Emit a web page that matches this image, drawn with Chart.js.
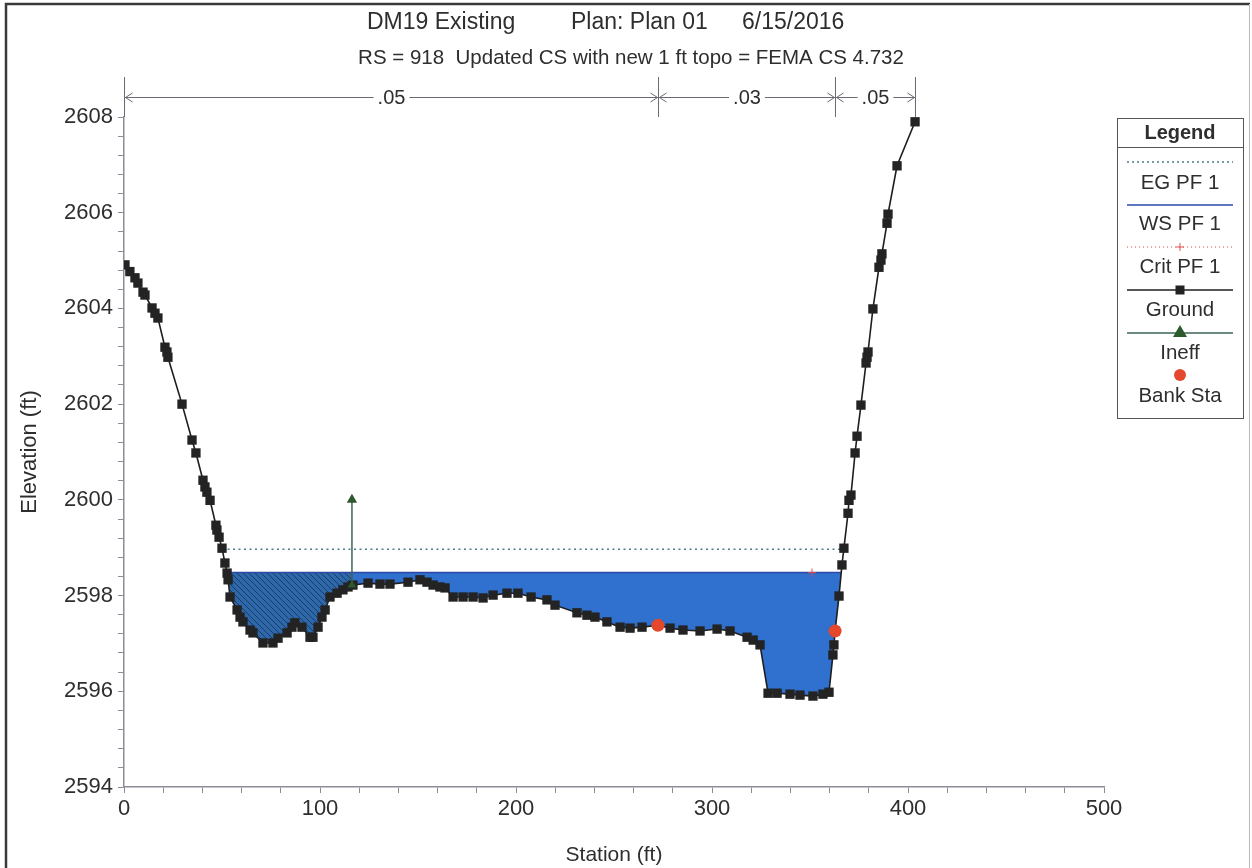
<!DOCTYPE html>
<html>
<head>
<meta charset="utf-8">
<script src="https://cdn.jsdelivr.net/npm/chart.js@4.4.1/dist/chart.umd.min.js"></script>
<style>
  html, body { margin: 0; padding: 0; background: #ffffff; }
  #wrap { width: 1252px; height: 868px; position: relative; }
</style>
</head>
<body>
<div id="wrap"><canvas id="c" width="1252" height="868"></canvas></div>
<script>
// ---------------- data ----------------
const groundStation = [0.5, 3, 5.6, 7.1, 9.7, 10.7, 14.3, 15.8, 17.3, 20.9, 21.9, 22.4, 29.6, 34.7, 36.7,
  40.3, 41.3, 42.3, 43.9, 46.9, 47.4, 48.5, 50.0, 51.5, 52.6, 53.1, 54.1, 57.7, 59.2, 60.7, 64.3, 65.8,
  70.9, 76.0, 78.6, 83.2, 85.7, 87.2, 90.8, 94.9, 96.4, 99.0, 101.0, 102.6, 105.1, 108.7, 111.7, 114.3,
  116.8, 124.5, 130.6, 135.7, 144.9, 151.0, 154.6, 157.7, 161.2, 163.8, 167.9, 173.0, 178.1, 183.2,
  188.3, 195.4, 201.0, 207.7, 215.8, 219.9, 231.1, 236.2, 240.3, 246.4, 253.1, 258.2, 264.3, 272.4,
  278.6, 285.2, 293.9, 302.6, 309.2, 317.9, 321.0, 324.5, 328.6, 333.2, 339.8, 344.9, 351.5, 356.6,
  359.7, 361.7, 362.2, 362.8, 364.8, 366.3, 367.3, 369.4, 369.9, 370.9, 373.0, 374.0, 376.0, 378.6,
  379.1, 379.6, 382.1, 385.2, 386.2, 386.7, 389.3, 389.8, 394.4, 403.6];
const groundElev = [2604.91, 2604.77, 2604.64, 2604.53, 2604.34, 2604.28, 2604.01, 2603.90, 2603.80,
  2603.19, 2603.09, 2602.98, 2602.00, 2601.25, 2600.98, 2600.41, 2600.27, 2600.16, 2599.99, 2599.47,
  2599.37, 2599.22, 2598.99, 2598.68, 2598.47, 2598.33, 2597.97, 2597.70, 2597.55, 2597.45, 2597.28,
  2597.22, 2597.01, 2597.01, 2597.11, 2597.22, 2597.34, 2597.43, 2597.34, 2597.13, 2597.13, 2597.34,
  2597.55, 2597.70, 2597.97, 2598.05, 2598.12, 2598.18, 2598.22, 2598.26, 2598.24, 2598.24, 2598.28,
  2598.33, 2598.28, 2598.22, 2598.18, 2598.16, 2597.97, 2597.97, 2597.97, 2597.95, 2598.01, 2598.05,
  2598.05, 2597.97, 2597.91, 2597.80, 2597.64, 2597.59, 2597.55, 2597.45, 2597.34, 2597.32, 2597.34,
  2597.38, 2597.32, 2597.28, 2597.26, 2597.30, 2597.26, 2597.13, 2597.07, 2596.97, 2595.96, 2595.96,
  2595.94, 2595.92, 2595.90, 2595.94, 2595.98, 2596.76, 2596.97, 2597.26, 2597.99, 2598.64, 2598.99,
  2599.72, 2599.99, 2600.10, 2600.98, 2601.33, 2601.98, 2602.86, 2602.98, 2603.09, 2603.99, 2604.86,
  2605.01, 2605.14, 2605.78, 2605.97, 2606.98, 2607.90];

const wsStation = [52.5, 365.9];
const wsElev = [2598.48, 2598.48];
const wsIneffStation = [52.5, 116.3];     // hatched (ineffective) part of the water area
const wsActiveStation = [116.3, 365.9];   // solid part of the water area
const egStation = [50.0, 367.3];
const egElev = [2598.97, 2598.97];
const critStation = [351.0];
const critElev = [2598.48];
const ineffStation = [116.3, 116.3];
const ineffElev = [2598.22, 2600.0];
const bankStation = [272.4, 362.8];
const bankElev = [2597.38, 2597.26];

const manningBreaks = [0, 272.4, 362.8, 403.6];
const manningLabels = ['.05', '.03', '.05'];

const xTickLabels = [0, 100, 200, 300, 400, 500];
const yTickLabels = [2594, 2596, 2598, 2600, 2602, 2604, 2606, 2608];

const titleParts = ['DM19 Existing', 'Plan: Plan 01', '6/15/2016'];
const subTitle = 'RS = 918  Updated CS with new 1 ft topo = FEMA CS 4.732';
const legendItems = ['EG PF 1', 'WS PF 1', 'Crit PF 1', 'Ground', 'Ineff', 'Bank Sta'];

// ---------------- helpers ----------------
const FONT = '"Liberation Sans", Arial, Helvetica, sans-serif';
const zip = (xs, ys) => xs.map((x, i) => ({ x: x, y: ys[i] }));
const flat = (xs, y) => xs.map(x => ({ x: x, y: y }));

const canvas = document.getElementById('c');
const mainCtx = canvas.getContext('2d');

function makeHatch() {
  const c = document.createElement('canvas');
  c.width = 6; c.height = 6;
  const g = c.getContext('2d');
  g.fillStyle = 'rgb(46,104,170)';
  g.fillRect(0, 0, 6, 6);
  g.strokeStyle = 'rgb(24,62,100)';
  g.lineWidth = 1;
  g.beginPath();
  g.moveTo(-1, -1); g.lineTo(7, 7);
  g.moveTo(-1, 5); g.lineTo(1, 7);
  g.moveTo(5, -1); g.lineTo(7, 1);
  g.stroke();
  return mainCtx.createPattern(c, 'repeat');
}
const hatch = makeHatch();

const AXIS_COLOR = '#8c8c98';
const TEXT_COLOR = '#2e2e2e';

// ---------------- decorations plugin ----------------
const decor = {
  id: 'decor',
  afterDraw(chart) {
    const ctx = chart.ctx;
    const xs = chart.scales.x;
    const top = chart.chartArea.top;
    ctx.save();

    // outer frame
    ctx.strokeStyle = '#3a3a3a';
    ctx.lineWidth = 2.5;
    ctx.beginPath();
    ctx.moveTo(6, 868); ctx.lineTo(6, 4); ctx.lineTo(1250, 4);
    ctx.stroke();
    ctx.strokeStyle = '#b8b8b8';
    ctx.lineWidth = 1;
    ctx.beginPath();
    ctx.moveTo(1249.5, 4); ctx.lineTo(1249.5, 868);
    ctx.stroke();

    // title
    ctx.fillStyle = TEXT_COLOR;
    ctx.textBaseline = 'middle';
    ctx.textAlign = 'left';
    ctx.font = '23px ' + FONT;
    const titleX = [367, 571, 742];
    titleParts.forEach((t, i) => ctx.fillText(t, titleX[i], 23));
    ctx.font = '20.5px ' + FONT;
    ctx.textAlign = 'center';
    ctx.fillText(subTitle, 631, 58);

    // Manning's n roughness markers
    const yArrow = 97;
    ctx.strokeStyle = '#6a6a72';
    ctx.lineWidth = 1;
    const px = manningBreaks.map(s => Math.round(xs.getPixelForValue(s)) + 0.5);
    px.forEach(p => {
      ctx.beginPath(); ctx.moveTo(p, 77); ctx.lineTo(p, top); ctx.stroke();
    });
    ctx.font = '20px ' + FONT;
    for (let i = 0; i < manningLabels.length; i++) {
      const a = px[i], b = px[i + 1];
      const mid = (a + b) / 2;
      const w = ctx.measureText(manningLabels[i]).width + 8;
      ctx.beginPath();
      ctx.moveTo(a, yArrow + 0.5); ctx.lineTo(mid - w / 2, yArrow + 0.5);
      ctx.moveTo(mid + w / 2, yArrow + 0.5); ctx.lineTo(b, yArrow + 0.5);
      // arrowheads
      ctx.moveTo(a + 8, yArrow - 4); ctx.lineTo(a + 1, yArrow + 0.5); ctx.lineTo(a + 8, yArrow + 5);
      ctx.moveTo(b - 8, yArrow - 4); ctx.lineTo(b - 1, yArrow + 0.5); ctx.lineTo(b - 8, yArrow + 5);
      ctx.stroke();
      ctx.fillStyle = TEXT_COLOR;
      ctx.textAlign = 'center';
      ctx.fillText(manningLabels[i], mid, yArrow + 1);
    }

    // legend box
    const L = 1117, R = 1243, T = 118, B = 418;
    ctx.fillStyle = '#ffffff';
    ctx.fillRect(L, T, R - L, B - T);
    ctx.strokeStyle = '#555';
    ctx.lineWidth = 1;
    ctx.strokeRect(L + 0.5, T + 0.5, R - L, B - T);
    ctx.beginPath(); ctx.moveTo(L, 147.5); ctx.lineTo(R, 147.5); ctx.stroke();
    ctx.fillStyle = TEXT_COLOR;
    ctx.textAlign = 'center';
    ctx.font = 'bold 20px ' + FONT;
    const cx = (L + R) / 2;
    ctx.fillText('Legend', cx, 133);
    ctx.font = '20.5px ' + FONT;
    const x1 = 1127, x2 = 1233;
    const sampleY = [162, 205, 247, 290, 333, 375];
    const textY = [183, 224, 267, 310, 353, 396];
    // EG
    ctx.strokeStyle = '#4c7c86'; ctx.setLineDash([2, 3]); ctx.lineWidth = 1.5;
    ctx.beginPath(); ctx.moveTo(x1, sampleY[0]); ctx.lineTo(x2, sampleY[0]); ctx.stroke();
    // WS
    ctx.setLineDash([]); ctx.strokeStyle = '#2d48a8'; ctx.lineWidth = 1.5;
    ctx.beginPath(); ctx.moveTo(x1, sampleY[1]); ctx.lineTo(x2, sampleY[1]); ctx.stroke();
    // Crit
    ctx.setLineDash([1, 3]); ctx.strokeStyle = '#e05050'; ctx.lineWidth = 1;
    ctx.beginPath(); ctx.moveTo(x1, sampleY[2]); ctx.lineTo(x2, sampleY[2]); ctx.stroke();
    ctx.setLineDash([]);
    ctx.beginPath();
    ctx.moveTo(cx - 4, sampleY[2]); ctx.lineTo(cx + 4, sampleY[2]);
    ctx.moveTo(cx, sampleY[2] - 4); ctx.lineTo(cx, sampleY[2] + 4);
    ctx.stroke();
    // Ground
    ctx.strokeStyle = '#1e1e1e'; ctx.lineWidth = 1.5;
    ctx.beginPath(); ctx.moveTo(x1, sampleY[3]); ctx.lineTo(x2, sampleY[3]); ctx.stroke();
    ctx.fillStyle = '#222';
    ctx.fillRect(cx - 4.5, sampleY[3] - 4.5, 9, 9);
    // Ineff
    ctx.strokeStyle = '#3b6656'; ctx.lineWidth = 1.5;
    ctx.beginPath(); ctx.moveTo(x1, sampleY[4]); ctx.lineTo(x2, sampleY[4]); ctx.stroke();
    ctx.fillStyle = '#2c5a2e';
    ctx.beginPath();
    ctx.moveTo(cx, sampleY[4] - 8); ctx.lineTo(cx + 7, sampleY[4] + 4); ctx.lineTo(cx - 7, sampleY[4] + 4);
    ctx.closePath(); ctx.fill();
    // Bank Sta
    ctx.fillStyle = '#e4472c';
    ctx.beginPath(); ctx.arc(cx, sampleY[5], 6, 0, Math.PI * 2); ctx.fill();
    // labels
    ctx.fillStyle = TEXT_COLOR;
    legendItems.forEach((t, i) => ctx.fillText(t, cx, textY[i]));

    ctx.restore();
  }
};

// ---------------- chart ----------------
const isLabel = (v, arr) => arr.some(a => Math.abs(a - v) < 1e-6);

new Chart(mainCtx, {
  type: 'scatter',
  data: {
    datasets: [
      { // 0 ground
        label: 'Ground',
        data: zip(groundStation, groundElev),
        showLine: true,
        borderColor: '#1e1e1e',
        borderWidth: 1.6,
        pointStyle: 'rect',
        pointRadius: 6.6,
        pointBackgroundColor: '#232323',
        pointBorderColor: '#232323',
        pointBorderWidth: 0,
        order: 2
      },
      { // 1 hatched (ineffective) water area
        label: 'WS ineff area',
        data: flat(wsIneffStation, wsElev[0]),
        showLine: true,
        borderWidth: 0,
        borderColor: 'rgba(0,0,0,0)',
        backgroundColor: hatch,
        pointRadius: 0,
        fill: 0,
        order: 10
      },
      { // 2 solid water area
        label: 'WS area',
        data: flat(wsActiveStation, wsElev[0]),
        showLine: true,
        borderWidth: 0,
        borderColor: 'rgba(0,0,0,0)',
        backgroundColor: 'rgb(48,112,206)',
        pointRadius: 0,
        fill: 0,
        order: 9
      },
      { // 3 WS line
        label: 'WS PF 1',
        data: zip(wsStation, wsElev),
        showLine: true,
        borderColor: '#2d48a8',
        borderWidth: 1.5,
        pointRadius: 0,
        order: 8
      },
      { // 4 EG line
        label: 'EG PF 1',
        data: zip(egStation, egElev),
        showLine: true,
        borderColor: '#4c7c86',
        borderWidth: 1.5,
        borderDash: [2, 3.5],
        pointRadius: 0,
        order: 7
      },
      { // 5 Crit
        label: 'Crit PF 1',
        data: zip(critStation, critElev),
        pointStyle: 'cross',
        pointRadius: 4,
        pointBorderColor: '#e04848',
        pointBorderWidth: 1,
        order: 6
      },
      { // 6 Ineff
        label: 'Ineff',
        data: zip(ineffStation, ineffElev),
        showLine: true,
        borderColor: '#3b6656',
        borderWidth: 1.5,
        pointStyle: 'triangle',
        pointRadius: [5, 6],
        pointBackgroundColor: '#2c5a2e',
        pointBorderColor: '#2c5a2e',
        pointBorderWidth: 0,
        order: 1
      },
      { // 7 Bank Sta
        label: 'Bank Sta',
        data: zip(bankStation, bankElev),
        pointStyle: 'circle',
        pointRadius: 6.5,
        pointBackgroundColor: '#e4472c',
        pointBorderColor: '#e4472c',
        pointBorderWidth: 0,
        order: 0
      }
    ]
  },
  options: {
    responsive: false,
    animation: false,
    events: [],
    layout: { padding: { left: 0, right: 148, top: 117, bottom: 0 } },
    plugins: {
      legend: { display: false },
      tooltip: { enabled: false },
      title: { display: false }
    },
    scales: {
      x: {
        type: 'linear',
        min: 0, max: 500,
        afterFit(s) { s.height = 81; },
        border: { display: true, color: AXIS_COLOR, width: 1.5 },
        grid: { display: true, drawOnChartArea: false, drawTicks: true, tickLength: 6, color: AXIS_COLOR },
        ticks: {
          stepSize: 20, autoSkip: false, maxRotation: 0, padding: 3,
          color: TEXT_COLOR, font: { family: FONT, size: 22 },
          callback: v => isLabel(v, xTickLabels) ? String(Math.round(v)) : ''
        },
        title: {
          display: true, text: 'Station (ft)', color: TEXT_COLOR,
          font: { family: FONT, size: 21 }, padding: { top: 0, bottom: 0 }
        }
      },
      y: {
        type: 'linear',
        min: 2594, max: 2608,
        afterFit(s) { s.width = 124; },
        border: { display: true, color: AXIS_COLOR, width: 1.5 },
        grid: { display: true, drawOnChartArea: false, drawTicks: true, tickLength: 6, color: AXIS_COLOR },
        ticks: {
          stepSize: 0.4, autoSkip: false, padding: 5,
          color: TEXT_COLOR, font: { family: FONT, size: 22 },
          callback: v => isLabel(v, yTickLabels) ? String(Math.round(v)) : ''
        },
        title: {
          display: true, text: 'Elevation (ft)', color: TEXT_COLOR,
          font: { family: FONT, size: 22 }, padding: { top: 17, bottom: 0 }
        }
      }
    }
  },
  plugins: [decor]
});
</script>
</body>
</html>
